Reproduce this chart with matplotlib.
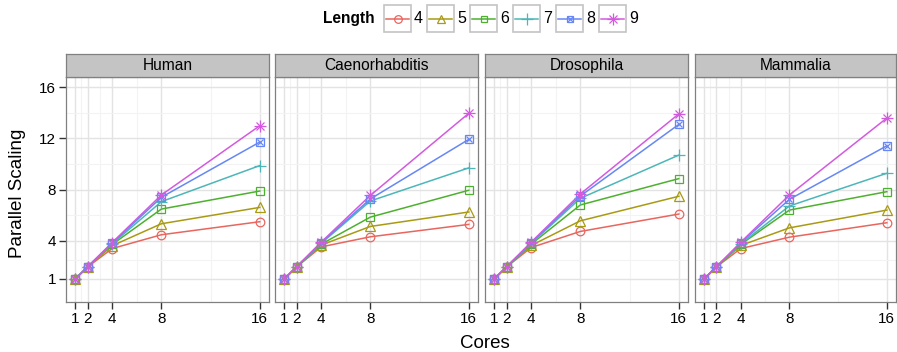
import numpy as np
import matplotlib
matplotlib.use("Agg")
import matplotlib.pyplot as plt
from matplotlib.patches import Rectangle

plt.rcParams["font.family"] = ["Liberation Sans", "DejaVu Sans"]

# Data: parallel scaling per species, core count and k-mer length
cores = [1, 2, 4, 8, 16]
lengths = ["4", "5", "6", "7", "8", "9"]
species = ["Human", "Caenorhabditis", "Drosophila", "Mammalia"]

human = [
    [1, 1.94, 3.38, 4.46, 5.48],
    [1, 1.95, 3.60, 5.32, 6.60],
    [1, 1.95, 3.70, 6.47, 7.88],
    [1, 1.95, 3.75, 7.05, 9.87],
    [1, 1.95, 3.80, 7.39, 11.71],
    [1, 1.95, 3.85, 7.57, 12.99],
]
caenorhabditis = [
    [1, 1.94, 3.51, 4.30, 5.27],
    [1, 1.95, 3.65, 5.11, 6.24],
    [1, 1.95, 3.72, 5.84, 7.94],
    [1, 1.95, 3.78, 7.10, 9.69],
    [1, 1.95, 3.84, 7.26, 11.92],
    [1, 1.95, 3.88, 7.54, 13.96],
]
drosophila = [
    [1, 1.94, 3.46, 4.72, 6.08],
    [1, 1.95, 3.62, 5.55, 7.47],
    [1, 1.95, 3.72, 6.79, 8.85],
    [1, 1.95, 3.78, 7.31, 10.69],
    [1, 1.95, 3.83, 7.49, 13.09],
    [1, 1.95, 3.88, 7.65, 13.91],
]
mammalia = [
    [1, 1.94, 3.38, 4.27, 5.40],
    [1, 1.95, 3.62, 5.00, 6.39],
    [1, 1.95, 3.70, 6.39, 7.83],
    [1, 1.95, 3.75, 6.71, 9.27],
    [1, 1.95, 3.82, 7.23, 11.42],
    [1, 1.95, 3.87, 7.57, 13.59],
]
panels = [human, caenorhabditis, drosophila, mammalia]

colors = ["#E8665E", "#A99A14", "#4DB02F", "#4DB6B8", "#6687F5", "#D35ADF"]

W, H = 897, 352
fig = plt.figure(figsize=(W / 100, H / 100), dpi=100)


def px_axes(x0, y0, x1, y1):
    # pixel box (top-left origin) -> figure axes
    return fig.add_axes([x0 / W, 1 - y1 / H, (x1 - x0) / W, (y1 - y0) / H])


def draw_marker(ax, x, y, i, color, ms=6.2, **kw):
    common = dict(color=color, linestyle="none", markeredgewidth=0.9, zorder=4, **kw)
    if i == 0:
        ax.plot(x, y, marker="o", ms=ms, mfc="none", mec=color, **common)
    elif i == 1:
        ax.plot(x, y, marker="^", ms=ms + 0.8, mfc="none", mec=color, **common)
    elif i == 2:
        ax.plot(x, y, marker="s", ms=ms - 0.5, mfc="none", mec=color, **common)
    elif i == 3:
        ax.plot(x, y, marker="+", ms=ms + 2.5, mec=color, **common)
    elif i == 4:
        ax.plot(x, y, marker="s", ms=ms - 0.5, mfc="none", mec=color, **common)
        ax.plot(x, y, marker="x", ms=ms - 1.5, mec=color, **common)
    else:
        ax.plot(x, y, marker="+", ms=ms + 2.5, mec=color, **common)
        ax.plot(x, y, marker="x", ms=(ms + 2.5) / 1.41, mec=color, **common)


lefts = [66, 275, 485, 695]
pw = 203
top, bottom, strip_top = 77, 302, 54

for k, (name, data) in enumerate(zip(species, panels)):
    x0 = lefts[k]
    x1 = min(x0 + pw, W - 1)
    ax = px_axes(x0, top, x1, bottom)
    ax.set_xlim(0.25, 16.75)
    ax.set_ylim(-0.8, 16.8)
    ax.set_xticks(cores)
    ax.set_xticks([1.5, 3, 6, 12], minor=True)
    ax.set_yticks([1, 4, 8, 12, 16])
    ax.set_yticks([2.5, 6, 10, 14], minor=True)
    ax.grid(True, which="major", color="#e3e3e3", lw=1.0)
    ax.grid(True, which="minor", color="#f3f3f3", lw=0.8)
    ax.set_axisbelow(True)
    for sp in ax.spines.values():
        sp.set_color("#808080")
        sp.set_linewidth(0.9)
    ax.tick_params(which="minor", length=0)
    ax.tick_params(which="major", direction="out", length=5, width=1.0,
                   color="#333333", labelsize=11, labelcolor="black", pad=2)
    if k > 0:
        ax.tick_params(axis="y", length=0, labelleft=False)

    for i, series in enumerate(data):
        ax.plot(cores, series, color=colors[i], lw=1.1, zorder=3)
        draw_marker(ax, cores, series, i, colors[i])

    # facet strip
    sa = px_axes(x0, strip_top, x1, top)
    sa.set_xticks([])
    sa.set_yticks([])
    sa.set_facecolor("#c4c4c4")
    for sp in sa.spines.values():
        sp.set_color("#808080")
        sp.set_linewidth(0.9)
    sa.text(0.5, 0.48, name, ha="center", va="center", fontsize=11.2,
            transform=sa.transAxes)

fig.text(18 / W, 1 - 193 / H, "Parallel Scaling", rotation=90, ha="center",
         va="center", fontsize=13.5)
fig.text(485 / W, 1 - 343 / H, "Cores", ha="center", va="center", fontsize=13.5)

# legend row
lg = px_axes(0, 0, W, 36)
lg.set_xlim(0, W)
lg.set_ylim(36, 0)
lg.axis("off")
lg.text(375, 18.5, "Length", ha="right", va="center", fontsize=11.2,
        fontweight="bold")
for i, lab in enumerate(lengths):
    bx = 384 + 43 * i
    lg.add_patch(Rectangle((bx, 5), 27, 27, facecolor="white",
                           edgecolor="#c4c4c4", lw=1.2))
    lg.plot([bx + 2, bx + 25], [18.5, 18.5], color=colors[i], lw=1.1, zorder=3)
    draw_marker(lg, [bx + 13.5], [18.5], i, colors[i], ms=5.5)
    lg.text(bx + 30, 18.5, lab, ha="left", va="center", fontsize=11.5)

fig.savefig("out.png", dpi=100)
